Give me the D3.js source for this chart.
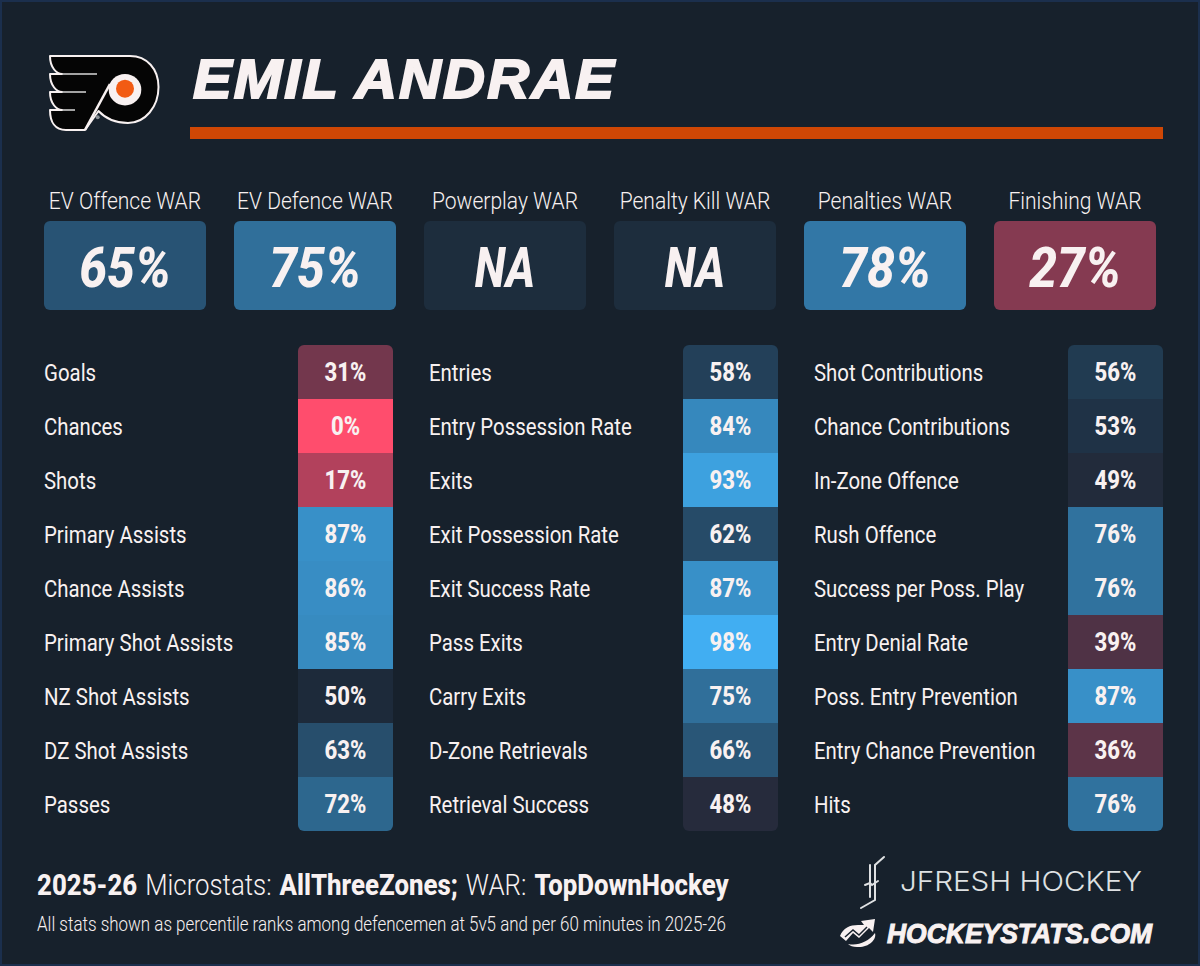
<!DOCTYPE html>
<html>
<head>
<meta charset="utf-8">
<script src="https://cdn.jsdelivr.net/npm/d3@7"></script>
<style>
html, body { margin: 0; padding: 0; background: #17212c; }
svg { display: block; }
text { font-family: Roboto, sans-serif; fill: #f8f1f1; }
</style>
</head>
<body>
<svg id="card" width="1200" height="966"></svg>
<script>
const playerName = "EMIL ANDRAE";
const warLabels = ["EV Offence WAR", "EV Defence WAR", "Powerplay WAR", "Penalty Kill WAR", "Penalties WAR", "Finishing WAR"];
const warValues = [65, 75, null, null, 78, 27];

const col1Labels = ["Goals", "Chances", "Shots", "Primary Assists", "Chance Assists", "Primary Shot Assists", "NZ Shot Assists", "DZ Shot Assists", "Passes"];
const col1Values = [31, 0, 17, 87, 86, 85, 50, 63, 72];
const col2Labels = ["Entries", "Entry Possession Rate", "Exits", "Exit Possession Rate", "Exit Success Rate", "Pass Exits", "Carry Exits", "D-Zone Retrievals", "Retrieval Success"];
const col2Values = [58, 84, 93, 62, 87, 98, 75, 66, 48];
const col3Labels = ["Shot Contributions", "Chance Contributions", "In-Zone Offence", "Rush Offence", "Success per Poss. Play", "Entry Denial Rate", "Poss. Entry Prevention", "Entry Chance Prevention", "Hits"];
const col3Values = [56, 53, 49, 76, 76, 39, 87, 36, 76];

const sourceParts = ["2025-26", "Microstats:", "AllThreeZones;", "WAR:", "TopDownHockey"];
const sourceBold = [true, false, true, false, true];

const svg = d3.select("#card");
const W = 1200, H = 966;

svg.append("rect").attr("width", W).attr("height", H).attr("fill", "#1b2f4d");
svg.append("rect").attr("x", 2).attr("y", 2).attr("width", W - 4).attr("height", H - 4).attr("fill", "#17212c");

// percentile colours, red through dark to blue
const color = d3.scaleLinear()
	.domain([0, 50, 100])
	.range(["#ff4d6d", "#1d2a3a", "#42b4fa"]);

// stretch text to a given width
function fit(sel, w) {
	return sel.attr("textLength", w).attr("lengthAdjust", "spacingAndGlyphs");
}

// squeeze text by a factor, no condensed font on the box
function squeeze(sel, f) {
	return sel.each(function (d, i) {
		const k = typeof f === "function" ? f(d, i) : f;
		fit(d3.select(this), this.getComputedTextLength() * k);
	});
}

// ----- header
drawLogo(svg.append("g"));

fit(svg.append("text")
	.attr("x", 193).attr("y", 98)
	.style("font-family", "'Liberation Sans'")
	.style("font-weight", 700).style("font-style", "italic")
	.style("font-size", "56px").style("letter-spacing", "2px")
	.style("stroke", "#f8f1f1").style("stroke-width", 2)
	.text(playerName), 423);

svg.append("rect").attr("x", 190).attr("y", 127).attr("width", 973).attr("height", 12).attr("fill", "#cf4705");

// ----- WAR boxes
const warX = d3.scaleBand().domain(warLabels).range([44, 1156]).paddingInner(28 / 190).paddingOuter(0);

const war = svg.append("g").selectAll("g").data(warLabels).enter().append("g")
	.attr("transform", d => `translate(${warX(d)},0)`);

squeeze(war.append("text")
	.attr("x", warX.bandwidth() / 2).attr("y", 209)
	.attr("text-anchor", "middle")
	.style("font-size", "23px").style("font-weight", 300)
	.text(d => d), 0.915);

war.append("rect")
	.attr("y", 221).attr("width", warX.bandwidth()).attr("height", 89).attr("rx", 6)
	.attr("fill", (d, i) => warValues[i] === null ? "#1d2d3d" : color(warValues[i]));

squeeze(war.append("text")
	.attr("x", warX.bandwidth() / 2).attr("y", 287)
	.attr("text-anchor", "middle")
	.style("font-size", "56px").style("font-weight", 800).style("font-style", "italic")
	.text((d, i) => warValues[i] === null ? "NA" : warValues[i] + "%"),
	(d, i) => warValues[i] === null ? 0.8 : 0.89);

// ----- stat columns
const rowY = d3.scaleBand().domain(d3.range(9)).range([345, 831]);
const columns = [
	{ labels: col1Labels, values: col1Values, x: 44, cell: 298 },
	{ labels: col2Labels, values: col2Values, x: 429, cell: 683 },
	{ labels: col3Labels, values: col3Values, x: 814, cell: 1068 }
];
const cellW = 95;

columns.forEach((c, k) => {
	const g = svg.append("g");
	const clipId = "colclip" + k;
	svg.append("clipPath").attr("id", clipId)
		.append("rect").attr("x", c.cell).attr("y", 345).attr("width", cellW).attr("height", 486).attr("rx", 6);

	g.append("g").attr("clip-path", `url(#${clipId})`)
		.selectAll("rect").data(c.values).enter().append("rect")
		.attr("x", c.cell).attr("y", (d, i) => rowY(i))
		.attr("width", cellW).attr("height", rowY.bandwidth())
		.attr("fill", d => color(d));

	squeeze(g.selectAll("text.lab").data(c.labels).enter().append("text")
		.attr("class", "lab")
		.attr("x", c.x).attr("y", (d, i) => rowY(i) + 36)
		.style("font-size", "24px").style("font-weight", 400)
		.text(d => d), 0.85);

	squeeze(g.selectAll("text.val").data(c.values).enter().append("text")
		.attr("class", "val")
		.attr("x", c.cell + cellW / 2).attr("y", (d, i) => rowY(i) + 36)
		.attr("text-anchor", "middle")
		.style("font-size", "26px").style("font-weight", 800)
		.text(d => d + "%"), 0.85);
});

// ----- footer
let srcX = 37;
sourceParts.forEach((part, i) => {
	const t = svg.append("text").attr("x", srcX).attr("y", 895)
		.style("font-size", "29px").style("font-weight", sourceBold[i] ? 800 : 300)
		.text(part);
	const w = t.node().getComputedTextLength() * 0.89;
	fit(t, w);
	srcX += w + 8;
});

fit(svg.append("text").attr("x", 37).attr("y", 931).style("font-size", "19.5px").style("font-weight", 300)
	.text("All stats shown as percentile ranks among defencemen at 5v5 and per 60 minutes in 2025-26"), 689);

fit(svg.append("text").attr("x", 900).attr("y", 891)
	.style("font-family", "Inter").style("font-size", "27px").style("font-weight", 300).style("fill", "#dfe1e3")
	.text("JFRESH HOCKEY"), 242);

fit(svg.append("text").attr("x", 887).attr("y", 943)
	.style("font-family", "'Liberation Sans'").style("font-size", "27px")
	.style("font-weight", 700).style("font-style", "italic")
	.style("stroke", "#f8f1f1").style("stroke-width", 1)
	.text("HOCKEYSTATS.COM"), 265);

drawSticks(svg.append("g"));
drawHsMark(svg.append("g"));

// ----- logos, traced by hand
function drawLogo(g) {
	g.append("path")
		.attr("d", "M50,56 H130 C147,56 158.5,69 158.5,87 C158.5,107 145,123 128,123 C116,123 106,119 98.5,111 L85,130 H66 C55,130 50,122 50,110 H62 C57,110 50,104 50,92 H62 C57,92 50,86 50,74 H62 C57,74 50,68 50,56 Z")
		.attr("fill", "#050505").attr("stroke", "#f8f1f1").attr("stroke-width", 2).attr("stroke-linejoin", "round");
	g.append("path")
		.attr("d", "M85,130 L110,84")
		.attr("stroke", "#f8f1f1").attr("stroke-width", 2.6);
	[[62, 97, 74], [62, 86, 92], [62, 75, 110]].forEach(l => {
		g.append("line").attr("x1", l[0]).attr("x2", l[1]).attr("y1", l[2]).attr("y2", l[2])
			.attr("stroke", "#d8d8d8").attr("stroke-width", 1.5);
	});
	g.append("ellipse").attr("cx", 125).attr("cy", 89.7).attr("rx", 16.3).attr("ry", 15.8).attr("fill", "#f8f1f1");
	g.append("circle").attr("cx", 125).attr("cy", 88.7).attr("r", 9).attr("fill", "#f25b13");
	g.append("circle").attr("cx", 97.7).attr("cy", 117.3).attr("r", 2).attr("fill", "#8a9096");
}

function drawSticks(g) {
	g.attr("fill", "none").attr("stroke", "#dfe1e3").attr("stroke-width", 2).attr("stroke-linecap", "round");
	g.append("path").attr("d", "M884,857 L875,865 L875,900 L861,908");
	g.append("path").attr("d", "M870,865 L870,897");
	g.append("path").attr("d", "M865,885 L870,883 L872,885 L878,881");
}

function drawHsMark(g) {
	g.append("path")
		.attr("d", "M840,936 C843,928 850,925 858,925 L864,925 L861,921 L875,919 L873,932 L869,928 L859,938 L853,933 L846,941 Z")
		.attr("fill", "#f8f1f1");
	g.append("path")
		.attr("d", "M848,944 C858,946 868,942 875,933 C877,940 868,948 857,947 C853,947 850,946 848,944 Z")
		.attr("fill", "#f8f1f1");
	g.append("path")
		.attr("d", "M845,937 L853,930 L859,935 L867,927")
		.attr("fill", "none").attr("stroke", "#17212c").attr("stroke-width", 1.5);
}
</script>
</body>
</html>
